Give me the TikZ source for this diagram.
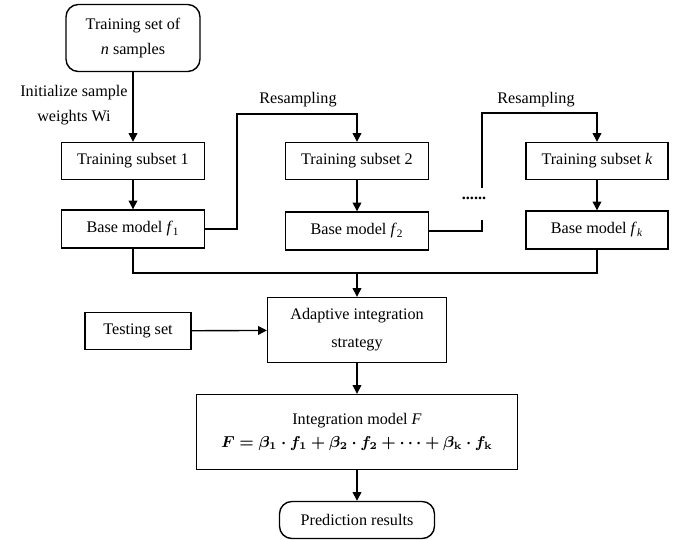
\documentclass[tikz,border=0pt]{standalone}
\usepackage{fontspec}
\setmainfont{Liberation Serif}
\usepackage{amsmath}
\usepackage{bm}
\usepackage{tikz}
\usetikzlibrary{arrows.meta}
\tikzset{
  fcbox/.style={draw=black, line width=0.8pt, align=center, inner sep=1pt},
  fcround/.style={fcbox, rounded corners=7pt},
  fcline/.style={draw=black, line width=0.8pt},
  fcarrow/.style={fcline, -{Triangle[length=5pt, width=5pt]}},
  fclabel/.style={align=center, inner sep=0pt},
}

\begin{document}
\begin{tikzpicture}[x=0.02cm, y=-0.02cm, font=\fontsize{9.2}{14}\selectfont]
\useasboundingbox (0,0) rectangle (681,539);
% source and training chain
\node[fcround, minimum width=2.68cm, minimum height=1.34cm] (trainset) at (133,38) {Training set of\\\textit{n} samples};
\node[fcbox, minimum width=2.86cm, minimum height=0.74cm] (sub1) at (133,161) {Training subset 1};
\node[fcbox, minimum width=2.86cm, minimum height=0.76cm] (f1) at (133,229) {Base model \textit{f}\textsubscript{1}};
\node[fcbox, minimum width=2.86cm, minimum height=0.74cm] (sub2) at (357,161) {Training subset 2};
\node[fcbox, minimum width=2.86cm, minimum height=0.76cm] (f2) at (357,231) {Base model \textit{f}\textsubscript{2}};
\node[fcbox, minimum width=2.84cm, minimum height=0.74cm] (subk) at (597,161) {Training subset \textit{k}};
\node[fcbox, minimum width=2.84cm, minimum height=0.76cm] (fk) at (597,230) {Base model \textit{f}\textsubscript{\textit{k}}};
% integration part
\node[fcbox, minimum width=3.58cm, minimum height=1.3cm, font=\fontsize{9.2}{16}\selectfont] (adapt) at (357,330) {Adaptive integration\\strategy};
\node[fcbox, minimum width=2.12cm, minimum height=0.74cm] (testset) at (138,331) {Testing set};
\node[fcbox, minimum width=6.42cm, minimum height=1.5cm, font=\fontsize{9.2}{13}\selectfont] (integ) at (357,432)
  {Integration model \textit{F}\\$\bm{F=\beta_{\mathbf{1}}\cdot f_{\mathbf{1}}+\beta_{\mathbf{2}}\cdot f_{\mathbf{2}}+\cdots+\beta_{\mathbf{k}}\cdot f_{\mathbf{k}}}$};
\node[fcround, minimum width=3.1cm, minimum height=0.74cm] (pred) at (357,520) {Prediction results};
% labels
\node[fclabel] (initlbl) at (74,105) {Initialize sample\\weights Wi};
\node[fclabel] (resamp1) at (298,100) {Resampling};
\node[fclabel] (resamp2) at (536,100) {Resampling};
\node[fclabel, anchor=base] (gapdots) at (474,199) {\textbf{......}};
% connectors
\coordinate (r1) at (237,114);
\coordinate (r2a) at (482,220);
\coordinate (r2b) at (482,188);
\coordinate (r2c) at (482,113);
\coordinate (merge) at (357,273);
\draw[fcarrow] (trainset) -- (sub1);
\draw[fcarrow] (sub1) -- (f1);
\draw[fcarrow] (sub2) -- (f2);
\draw[fcarrow] (subk) -- (fk);
\draw[fcarrow] (f1.east) -| (r1) -| (sub2.north);
\draw[fcline] (f2.east) -| (r2a);
\draw[fcarrow] (r2b) -- (r2c) -| (subk.north);
\draw[fcline] (f1.south) |- (merge) -| (fk.south);
\draw[fcarrow] (merge) -- (adapt.north);
\draw[fcarrow] (testset) -- (adapt);
\draw[fcarrow] (adapt) -- (integ);
\draw[fcarrow] (integ) -- (pred);
\end{tikzpicture}
\end{document}
